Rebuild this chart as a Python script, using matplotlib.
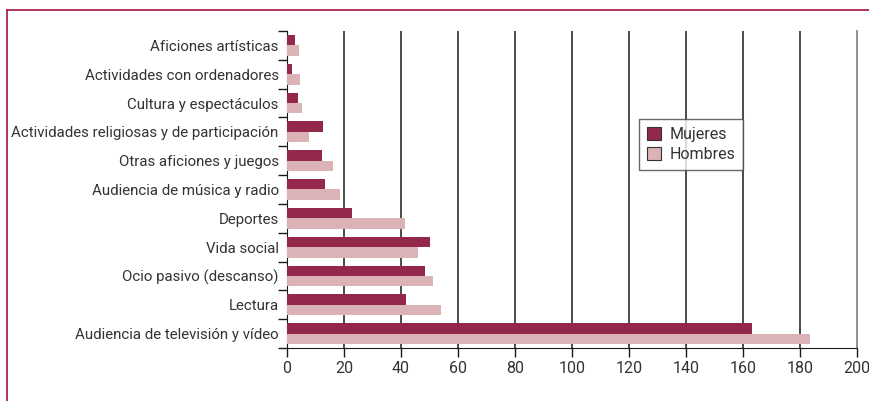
import matplotlib
matplotlib.use('Agg')
import matplotlib.pyplot as plt
from matplotlib.lines import Line2D
import numpy as np

plt.rcParams['font.family'] = ['Roboto', 'DejaVu Sans']

# categorias, de abajo hacia arriba
categorias = [
    'Audiencia de televisión y vídeo',
    'Lectura',
    'Ocio pasivo (descanso)',
    'Vida social',
    'Deportes',
    'Audiencia de música y radio',
    'Otras aficiones y juegos',
    'Actividades religiosas y de participación',
    'Cultura y espectáculos',
    'Actividades con ordenadores',
    'Aficiones artísticas',
]
mujeres = [163.3, 41.6, 48.3, 50.2, 22.9, 13.3, 12.3, 12.5, 4.0, 1.9, 2.8]
hombres = [183.4, 54.0, 51.1, 45.9, 41.3, 18.6, 16.0, 7.7, 5.2, 4.6, 4.2]
xticks = [0, 20, 40, 60, 80, 100, 120, 140, 160, 180, 200]

col_m = '#93284a'
col_h = '#dbb3b6'
texto = '#333333'
marco = '#a8264d'

fig = plt.figure(figsize=(8.69, 4.01), dpi=100)
ax = fig.add_axes([287/869, 1-348/401, 570/869, 317/401])

y = np.arange(len(categorias))
h = 0.36
ax.barh(y + h/2, mujeres, height=h, color=col_m, label='Mujeres', zorder=3)
ax.barh(y - h/2, hombres, height=h, color=col_h, label='Hombres', zorder=3)

ax.set_xlim(0, 200)
ax.set_ylim(-0.5, len(categorias) - 0.5)

# lineas verticales de la cuadricula
for v in xticks[1:-1]:
    ax.axvline(v, color='#1a1a1a', lw=1.1, zorder=1)

ax.set_xticks(xticks)
ax.set_xticklabels([str(v) for v in xticks], fontsize=11.5, color=texto)
ax.tick_params(axis='x', length=6.5, width=1, color='#1a1a1a', pad=3)
ax.xaxis.get_major_ticks()[-1].tick1line.set_color('#888888')

ax.set_yticks(y)
ax.set_yticklabels(categorias, fontsize=10.8, color=texto)
ax.tick_params(axis='y', which='major', length=0, pad=6)
ax.set_yticks(np.arange(-0.5, len(categorias)), minor=True)
ax.tick_params(axis='y', which='minor', length=6.5, width=1, color='#1a1a1a')

ax.spines['top'].set_visible(False)
ax.spines['right'].set_color('#888888')
ax.spines['right'].set_linewidth(1.3)
ax.spines['left'].set_color('#1a1a1a')
ax.spines['bottom'].set_color('#1a1a1a')

leg = ax.legend(loc='upper left', bbox_to_anchor=(639/869, 1-119/401),
                bbox_transform=fig.transFigure, fontsize=11.5, frameon=True,
                fancybox=False, handlelength=0.9, handleheight=0.9,
                handletextpad=0.5, borderpad=0.5, labelspacing=0.3,
                borderaxespad=0)
leg.get_frame().set_edgecolor('#444444')
leg.get_frame().set_linewidth(1)
for t in leg.get_texts():
    t.set_color(texto)
for p in leg.get_patches():
    p.set_edgecolor('#333333')
    p.set_linewidth(0.8)
leg.set_zorder(5)

# marco exterior
fig.add_artist(Line2D([7.5/869, 7.5/869], [0, 1-9.5/401], color=marco, lw=1.3))
fig.add_artist(Line2D([7.5/869, 1], [1-9.5/401, 1-9.5/401], color=marco, lw=1.3))

fig.savefig('out.png', dpi=100)
